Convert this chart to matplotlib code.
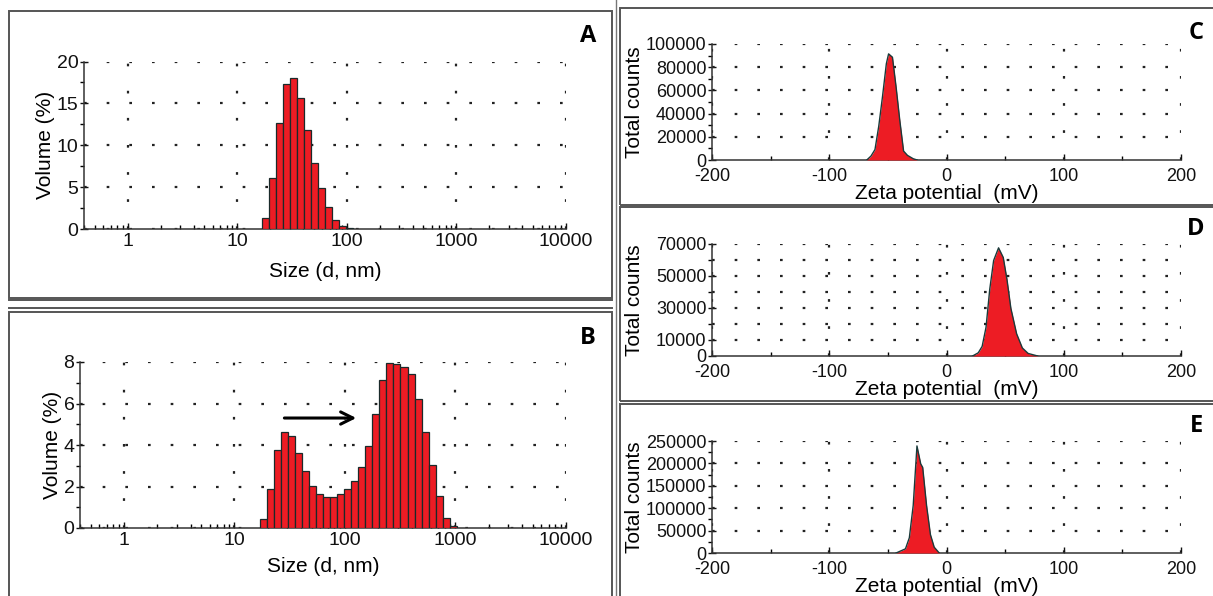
import matplotlib
matplotlib.use("Agg")
import matplotlib.pyplot as plt
import numpy as np
from matplotlib.patches import Rectangle
from matplotlib.lines import Line2D
from matplotlib.ticker import FixedLocator, NullFormatter, LogLocator

plt.rcParams['font.family'] = ['Liberation Sans', 'DejaVu Sans']
plt.rcParams['axes.unicode_minus'] = False

# --- size distribution (Malvern size classes, nm) ---
sizes_a = [18.17, 21.04, 24.36, 28.21, 32.67, 37.84, 43.82, 50.75, 58.77,
           68.06, 78.82, 91.28, 105.7]
volume_a = [1.3, 6.1, 12.7, 17.3, 18.0, 15.7, 11.8, 7.9, 4.9, 2.6, 1.1, 0.3, 0.1]

sizes_b = [18.17, 21.04, 24.36, 28.21, 32.67, 37.84, 43.82, 50.75, 58.77,
           68.06, 78.82, 91.28, 105.7, 122.4, 141.8, 164.2, 190.1, 220.2,
           255.0, 295.3, 342.0, 396.1, 458.7, 531.2, 615.1, 712.4, 825.0, 955.4]
volume_b = [0.42, 1.9, 3.76, 4.62, 4.43, 3.6, 2.73, 2.04, 1.65, 1.5, 1.5, 1.65,
            1.89, 2.28, 2.92, 3.96, 5.5, 7.14, 7.93, 7.9, 7.74, 7.42, 6.24,
            4.62, 3.02, 1.52, 0.48, 0.11]
size_ratio = 1.158  # step between neighbouring size classes

# --- zeta potential curves ---
zeta_c = [-68, -64.4, -61, -57.8, -54.6, -51.3, -49.4, -46.1, -43, -39.9,
          -36.6, -33.3, -28.4, -25]
counts_c = [0, 3400, 9000, 29000, 54500, 83000, 91500, 88600, 63000, 34700,
            7700, 4000, 1100, 0]

zeta_d = [22.2, 27.1, 30.4, 33.7, 36.9, 40.2, 44.4, 48.4, 51.6, 54.9, 59.8,
          64.7, 69.6, 77.8]
counts_d = [0, 2000, 6000, 17900, 41800, 59700, 67600, 61600, 47700, 29800,
            13900, 5000, 1600, 0]

zeta_e = [-43, -35, -31.7, -28.4, -25.2, -22, -20.3, -17, -13.7, -10.5, -6.2]
counts_e = [0, 9300, 34000, 106000, 239000, 199000, 191000, 106000, 41000,
            13000, 0]

RED = '#ED1C24'
GRID = '#222222'
W, H = 1213, 596
LABEL_FS = 15

fig = plt.figure(figsize=(W / 100, H / 100), dpi=100)


def ax_px(left, top, right, bottom):
    return fig.add_axes([left / W, 1 - bottom / H, (right - left) / W, (bottom - top) / H])


def style(ax, fs):
    for s in ['top', 'right']:
        ax.spines[s].set_visible(False)
    for s in ['left', 'bottom']:
        ax.spines[s].set_color('#333333')
        ax.spines[s].set_linewidth(1.1)
    ax.tick_params(axis='both', labelsize=fs, colors='#111111', pad=1)
    ax.tick_params(axis='y', which='major', direction='inout', length=6, width=1)
    ax.tick_params(axis='y', which='minor', direction='out', length=3, width=1)
    ax.tick_params(axis='x', which='major', direction='in', length=4, width=1)
    ax.tick_params(axis='x', which='minor', direction='in', length=3, width=1)
    ax.set_axisbelow(True)
    ax.grid(True, axis='y', which='major', color=GRID, lw=1.6, linestyle=(0, (1.2, 9)))
    ax.grid(True, axis='x', which='major', color=GRID, lw=1.6, linestyle=(0, (1.2, 11)))
    ax.grid(False, which='minor')


def size_panel(ax, sizes, vols, ymax, ystep, xlabelpad):
    sizes = np.array(sizes)
    left = sizes / np.sqrt(size_ratio)
    right = sizes * np.sqrt(size_ratio)
    ax.bar(left, vols, width=right - left, align='edge', color=RED,
           edgecolor='#1a2a2a', linewidth=0.9, zorder=3)
    ax.set_xscale('log')
    ax.set_xlim(0.4, 10000)
    ax.set_ylim(0, ymax)
    ax.set_xticks([1, 10, 100, 1000, 10000])
    ax.set_xticklabels(['1', '10', '100', '1000', '10000'])
    ax.xaxis.set_minor_locator(LogLocator(base=10, subs=np.arange(2, 10)))
    ax.xaxis.set_minor_formatter(NullFormatter())
    ax.set_yticks(np.arange(0, ymax + 0.1, ystep))
    ax.yaxis.set_minor_locator(FixedLocator(np.arange(ystep / 2, ymax, ystep)))
    style(ax, 14)
    ax.tick_params(axis='x', pad=3)
    ax.set_xlabel('Size (d, nm)', fontsize=LABEL_FS, labelpad=xlabelpad)
    ax.set_ylabel('Volume (%)', fontsize=LABEL_FS, labelpad=1)
    return ax


def zeta_panel(ax, z, c, ymax, yticks, ylabels, ygrid, yminor):
    ax.fill_between(z, c, 0, color=RED, zorder=3, lw=0)
    ax.plot(z, c, color='#1a3a3a', lw=1.0, zorder=4)
    ax.set_xlim(-200, 200)
    ax.set_ylim(0, ymax)
    ax.set_xticks([-200, -100, 0, 100, 200])
    ax.xaxis.set_minor_locator(FixedLocator([-150, -50, 50, 150]))
    ax.set_yticks(yticks)
    ax.set_yticklabels(ylabels)
    ax.yaxis.set_minor_locator(FixedLocator(yminor))
    style(ax, 13)
    ax.tick_params(axis='x', pad=6)
    ax.grid(False, axis='y')
    for g in ygrid:
        ax.axhline(g, color=GRID, lw=1.6, linestyle=(0, (1.2, 9)), zorder=1)
    ax.set_xlabel('Zeta potential  (mV)', fontsize=LABEL_FS, labelpad=-1)
    ax.set_ylabel('Total counts', fontsize=LABEL_FS)
    ax.yaxis.set_label_coords(-0.145, 0.5)
    return ax


# panel frames
frame = dict(fill=False, edgecolor='#555555', linewidth=1.4, transform=fig.transFigure)
for (l, t, r, b) in [(9, 11, 612, 298), (9, 312, 612, 602), (620, 8, 1216, 205),
                     (620, 207, 1216, 401), (620, 404, 1216, 602)]:
    fig.add_artist(Rectangle((l / W, 1 - b / H), (r - l) / W, (b - t) / H, **frame))
for y in [300, 308]:
    fig.add_artist(Line2D([9 / W, 612 / W], [1 - y / H, 1 - y / H], color='#555555',
                          lw=1.4, transform=fig.transFigure))
fig.add_artist(Line2D([616 / W, 616 / W], [0, 1], color='#777777', lw=1.0,
                      transform=fig.transFigure))

ax_a = size_panel(ax_px(84, 61.5, 566, 229), sizes_a, volume_a, 20, 5, 8.5)
ax_b = size_panel(ax_px(80, 362, 566, 528), sizes_b, volume_b, 8, 2, 6)
ax_b.annotate('', xy=(134, 5.3), xytext=(26.7, 5.3),
              arrowprops=dict(arrowstyle='->', lw=2.2, color='black',
                              mutation_scale=22), zorder=5)

ax_c = zeta_panel(ax_px(712, 44, 1181, 160), zeta_c, counts_c, 100000,
                  np.arange(0, 100001, 20000),
                  ['0', '20000', '40000', '60000', '80000', '100000'],
                  np.arange(20000, 100001, 20000), np.arange(10000, 100000, 20000))
ax_d = zeta_panel(ax_px(712, 244, 1181, 356), zeta_d, counts_d, 70000,
                  [0, 10000, 30000, 50000, 70000],
                  ['0', '10000', '30000', '50000', '70000'],
                  np.arange(10000, 70001, 10000), [20000, 40000, 60000])
ax_e = zeta_panel(ax_px(712, 441, 1181, 553), zeta_e, counts_e, 250000,
                  np.arange(0, 250001, 50000),
                  ['0', '50000', '100000', '150000', '200000', '250000'],
                  np.arange(50000, 250001, 50000), np.arange(25000, 250000, 50000))

# panel letters
for letter, x, y in [('A', 588, 36), ('B', 588, 338), ('C', 1196, 33),
                     ('D', 1196, 229), ('E', 1196, 426)]:
    fig.text(x / W, 1 - y / H, letter, fontsize=17, fontweight='bold',
             family=['Open Sans', 'DejaVu Sans'], ha='center', va='center')

fig.savefig('out.png', dpi=100)
